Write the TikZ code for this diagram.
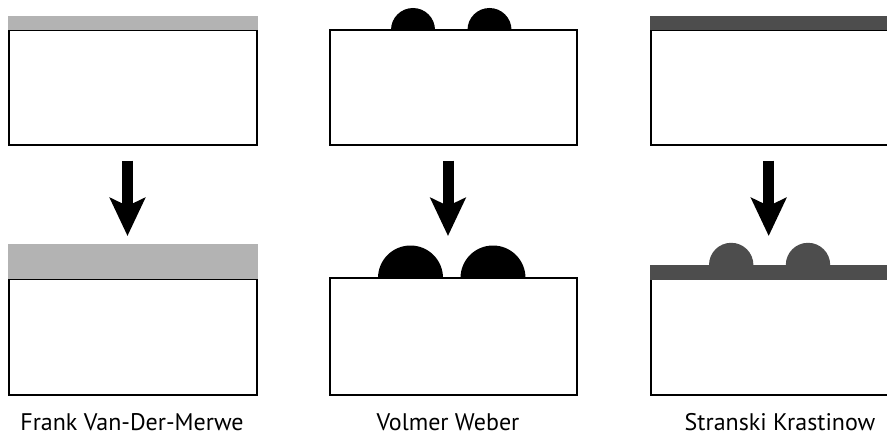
\documentclass[tikz,border=0pt]{standalone}
\usepackage{fontspec}
\setmainfont{PT Sans}
\usetikzlibrary{arrows.meta}
\definecolor{lightfilm}{HTML}{B3B3B3}
\definecolor{darkfilm}{HTML}{4D4D4D}
\tikzset{
  substrate/.style={draw=black, fill=white, line width=1.6pt},
  lightbar/.style={fill=lightfilm, draw=none},
  darkbar/.style={fill=darkfilm, draw=none},
  bigarrow/.style={line width=11pt, -{Stealth[length=38pt, width=35pt, inset=8pt]}},
  caption/.style={font=\fontsize{24}{28}\selectfont, anchor=base, inner sep=0pt}
}
\begin{document}
\begin{tikzpicture}[x=1pt,y=-1pt]
\useasboundingbox (0,0) rectangle (887,436);
\fill[white] (0,0) rectangle (887,436);
% ---------- Frank Van-Der-Merwe ----------
\draw[substrate] (9,30) rectangle (257,145);
\fill[lightbar] (8.2,16) rectangle (257.8,30);
\coordinate (fmS) at (127.5,160.5);
\coordinate (fmE) at (127.5,236);
\draw[bigarrow] (fmS) -- (fmE);
\draw[substrate] (9,279) rectangle (257,395);
\fill[lightbar] (8.2,243.5) rectangle (257.8,279);
\node[caption] (fmtext) at (132,430) {Frank Van-Der-Merwe};
% ---------- Volmer Weber ----------
\fill[black] (391,30) arc[start angle=180, end angle=360, radius=22] -- cycle;
\fill[black] (467.5,30) arc[start angle=180, end angle=360, radius=22] -- cycle;
\draw[substrate] (330,30) rectangle (577,145);
\coordinate (vwS) at (448,160.5);
\coordinate (vwE) at (448,236);
\draw[bigarrow] (vwS) -- (vwE);
\fill[black] (378,278) arc[start angle=180, end angle=360, radius=32.5] -- cycle;
\fill[black] (460.5,278) arc[start angle=180, end angle=360, radius=32.5] -- cycle;
\draw[substrate] (330,278) rectangle (577,395);
\node[caption] (vwtext) at (448,430) {Volmer Weber};
% ---------- Stranski Krastinow ----------
\draw[substrate] (651,30) rectangle (900,145);
\fill[darkbar] (650.2,16) rectangle (900,30);
\coordinate (skS) at (768.7,160.5);
\coordinate (skE) at (768.7,236);
\draw[bigarrow] (skS) -- (skE);
\draw[substrate] (651,279) rectangle (900,395);
\fill[darkfilm] (709,265) arc[start angle=180, end angle=360, radius=22.2] -- cycle;
\fill[darkfilm] (785.8,265) arc[start angle=180, end angle=360, radius=22.2] -- cycle;
\fill[darkbar] (650.2,265) rectangle (900,279.5);
\node[caption] (sktext) at (780,430) {Stranski Krastinow};
\end{tikzpicture}
\end{document}
